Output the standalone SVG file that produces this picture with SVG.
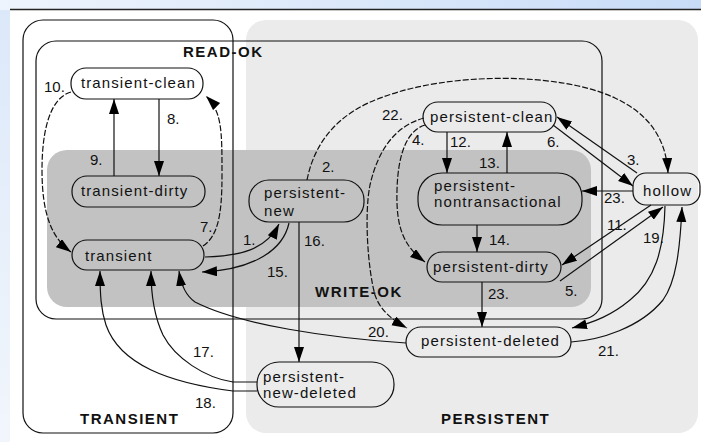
<svg xmlns="http://www.w3.org/2000/svg" width="701" height="442" viewBox="0 0 701 442">
<defs>
<linearGradient id="gTop" x1="0" y1="0" x2="1" y2="0"><stop offset="0" stop-color="#eef4fd"/><stop offset="1" stop-color="#c8dcf7"/></linearGradient>
<linearGradient id="gLeft" x1="0" y1="0" x2="0" y2="1"><stop offset="0" stop-color="#dbe8f9"/><stop offset="1" stop-color="#f2f6fc"/></linearGradient>
<marker id="ah" markerUnits="userSpaceOnUse" markerWidth="16" markerHeight="11" refX="15" refY="5" orient="auto"><path d="M0,0 L15,5 L0,10 z" fill="#000"/></marker>
<style>
.reg{stroke:#111;stroke-width:1.2;fill:none}
.rl{font-family:"Liberation Sans",Arial,sans-serif;font-weight:bold;font-size:15px;letter-spacing:1.5px;fill:#111}
.nd{stroke:#111;stroke-width:1.2;fill:none}
.nt{font-family:"Liberation Sans",Arial,sans-serif;font-size:15px;letter-spacing:1.1px;fill:#111}
.c{stroke:#111;stroke-width:1.2;fill:none;marker-end:url(#ah)}
.d{stroke-dasharray:6 2}
.lb{font-family:"Liberation Sans",Arial,sans-serif;font-size:15px;fill:#111}
</style>
</defs>
<rect x="0" y="0" width="701" height="442" fill="url(#gLeft)"/>
<rect x="0" y="0" width="701" height="10" fill="url(#gTop)"/>
<rect x="10" y="10" width="691" height="432" fill="#ffffff"/>
<line x1="10" y1="9.5" x2="701" y2="9.5" stroke="#222" stroke-width="1.3"/>
<g id="regions">
<rect id="persistent-region" x="246" y="20" width="452" height="413" rx="20" fill="#ebebeb"/>
<rect id="write-ok-region" x="47" y="150" width="544" height="157" rx="20" fill="#c2c2c2"/>
<rect id="transient-region" class="reg" x="23" y="20" width="210" height="413" rx="20"/>
<rect id="read-ok-region" class="reg" x="36" y="41" width="566" height="278" rx="20"/>
<text class="rl" x="183" y="57">READ-OK</text>
<text class="rl" x="315" y="297">WRITE-OK</text>
<text class="rl" x="80" y="424">TRANSIENT</text>
<text class="rl" x="441" y="424">PERSISTENT</text>
</g>
<g id="connectors">
<path class="c" d="M159,99 L159,176"/>
<path class="c" d="M114,176 L114,99"/>
<path class="c d" d="M71,92 C50,98 42,130 42,170 C42,215 52,238 71,252"/>
<path class="c d" d="M203,246 C218,236 222,215 222,175 C222,130 222,112 206,96"/>
<path class="c" d="M205,257 C240,256 266,250 279,224"/>
<path class="c" d="M289,223 C282,255 245,270 202,272"/>
<path class="c" d="M299,222 L299,362"/>
<path class="c d" d="M307,180 C315,140 340,112 383,97 C450,72 560,72 615,98 C645,112 666,135 668,173"/>
<path class="c d" d="M424,118 C395,126 378,150 370,185 C364,215 368,270 375,295 C380,310 392,320 407,328"/>
<path class="c d" d="M425,125 C408,130 398,152 397,190 C396,225 402,245 425,262"/>
<path class="c" d="M447,132 L447,173"/>
<path class="c" d="M507,173 L507,132"/>
<path class="c" d="M477,225 L477,252"/>
<path class="c" d="M482,282 L482,327"/>
<path class="c" d="M633,191 L582,191"/>
<path class="c" d="M553,125 L633,186"/>
<path class="c" d="M637,173 L557,117"/>
<path class="c" d="M651,205 L562,265"/>
<path class="c" d="M560,281 L663,207"/>
<path class="c" d="M665,206 C664,250 655,280 630,300 C612,315 595,322 572,328"/>
<path class="c" d="M571,342 C600,340 640,328 663,300 C676,282 680,250 682,207"/>
<path class="c" d="M406,343 C330,338 240,325 195,302 C185,295 181,285 179,271"/>
<path class="c" d="M257,382 L233,382 C205,378 175,358 163,335 C155,318 151,295 151,271"/>
<path class="c" d="M257,391 L233,391 C170,383 120,365 106,325 C101,310 100,295 100,271"/>
<text class="lb" x="44" y="92">10.</text>
<text class="lb" x="167" y="124">8.</text>
<text class="lb" x="90" y="165">9.</text>
<text class="lb" x="200" y="232">7.</text>
<text class="lb" x="243" y="245">1.</text>
<text class="lb" x="267" y="277">15.</text>
<text class="lb" x="304" y="246">16.</text>
<text class="lb" x="322" y="172">2.</text>
<text class="lb" x="382" y="120">22.</text>
<text class="lb" x="412" y="145">4.</text>
<text class="lb" x="450" y="147">12.</text>
<text class="lb" x="479" y="168">13.</text>
<text class="lb" x="547" y="147">6.</text>
<text class="lb" x="627" y="165">3.</text>
<text class="lb" x="604" y="203">23.</text>
<text class="lb" x="607" y="230">11.</text>
<text class="lb" x="489" y="245">14.</text>
<text class="lb" x="643" y="243">19.</text>
<text class="lb" x="565" y="296">5.</text>
<text class="lb" x="488" y="299">23.</text>
<text class="lb" x="368" y="337">20.</text>
<text class="lb" x="598" y="356">21.</text>
<text class="lb" x="193" y="357">17.</text>
<text class="lb" x="195" y="408">18.</text>
</g>
<g id="node-transient-clean"><rect class="nd" x="71" y="68" width="132" height="31" rx="15"/><text class="nt" x="81" y="88">transient-clean</text></g>
<g id="node-transient-dirty"><rect class="nd" x="72" y="176" width="133" height="31" rx="15"/><text class="nt" x="81" y="196">transient-dirty</text></g>
<g id="node-transient"><rect class="nd" x="72" y="240" width="132" height="30" rx="15"/><text class="nt" x="85" y="261">transient</text></g>
<g id="node-persistent-new"><rect class="nd" x="249" y="180" width="115" height="42" rx="20"/><text class="nt" x="264" y="198">persistent-</text><text class="nt" x="264" y="216">new</text></g>
<g id="node-persistent-clean"><rect class="nd" x="423" y="102" width="133" height="30" rx="15"/><text class="nt" x="430" y="122">persistent-clean</text></g>
<g id="node-persistent-nontransactional"><rect class="nd" x="418" y="173" width="164" height="52" rx="24"/><text class="nt" x="434" y="191">persistent-</text><text class="nt" x="434" y="207">nontransactional</text></g>
<g id="node-hollow"><rect class="nd" x="633" y="173" width="67" height="32" rx="13"/><text class="nt" x="643" y="196">hollow</text></g>
<g id="node-persistent-dirty"><rect class="nd" x="427" y="252" width="134" height="30" rx="15"/><text class="nt" x="433" y="272">persistent-dirty</text></g>
<g id="node-persistent-deleted"><rect class="nd" x="406" y="327" width="165" height="30" rx="15"/><text class="nt" x="421" y="346">persistent-deleted</text></g>
<g id="node-persistent-new-deleted"><rect class="nd" x="257" y="362" width="137" height="45" rx="22"/><text class="nt" x="263" y="382">persistent-</text><text class="nt" x="263" y="398">new-deleted</text></g>
</svg>
